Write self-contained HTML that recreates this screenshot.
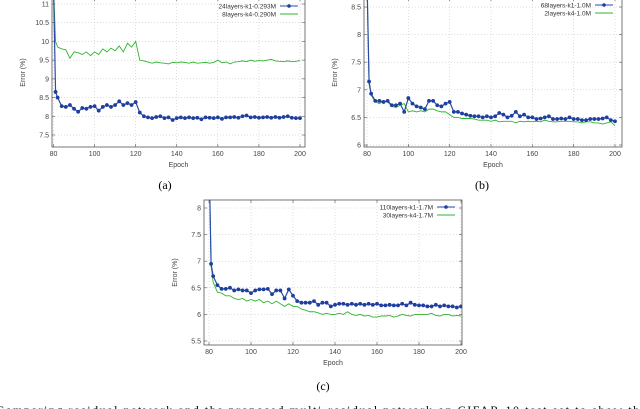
<!DOCTYPE html>
<html><head><meta charset="utf-8">
<style>
html,body{margin:0;padding:0;background:#fff;width:640px;height:409px;overflow:hidden;font-family:"Liberation Sans",sans-serif}
svg{position:absolute;left:0;top:0}
.tk{font-size:7px;fill:#444}
.lg{font-size:6.5px;fill:#333}
.cap{font-family:"Liberation Serif",serif;font-size:12px;fill:#000}
</style></head>
<body>
<svg id="chart" width="640" height="409" viewBox="0 0 640 409"></svg>
<script>
// shared epochs
const epochs = [80,81];
for (let e = 82; e <= 200; e += 2) epochs.push(e);
const xTicks = [80,100,120,140,160,180,200];

// panel (a)
const aBlue = [11.5,8.65,8.5,8.27,8.25,8.3,8.2,8.12,8.22,8.2,8.25,8.27,8.15,8.25,8.3,8.25,8.3,8.4,8.3,8.35,8.3,8.38,8.1,8.0,7.97,7.95,7.98,8.0,7.95,7.97,7.9,7.95,7.97,7.95,7.97,7.95,7.96,7.92,7.97,7.96,7.95,7.97,7.93,7.97,7.97,7.98,7.96,8.0,8.02,7.97,7.98,7.96,7.97,7.98,7.96,7.98,7.96,7.98,8.0,7.96,7.95,7.95];
const aGreen = [11.5,10.0,9.85,9.8,9.78,9.55,9.72,9.7,9.65,9.72,9.62,9.72,9.65,9.8,9.72,9.82,9.75,9.88,9.72,9.95,9.85,10.0,9.5,9.48,9.45,9.42,9.45,9.43,9.42,9.4,9.44,9.43,9.45,9.44,9.42,9.45,9.42,9.43,9.44,9.42,9.44,9.5,9.43,9.45,9.4,9.45,9.46,9.48,9.46,9.5,9.47,9.49,9.48,9.5,9.52,9.48,9.47,9.46,9.48,9.46,9.47,9.49];
const aYTicks = [7.5,8,8.5,9,9.5,10,10.5,11];
const aLegend = ["24layers-k1-0.293M","8layers-k4-0.290M"];

// panel (b)
const bBlue = [9,7.15,6.93,6.8,6.8,6.78,6.8,6.72,6.72,6.75,6.6,6.85,6.75,6.7,6.68,6.65,6.8,6.8,6.72,6.7,6.75,6.78,6.6,6.6,6.57,6.55,6.53,6.52,6.52,6.5,6.52,6.5,6.52,6.58,6.55,6.5,6.53,6.6,6.52,6.55,6.5,6.5,6.47,6.48,6.5,6.52,6.47,6.47,6.48,6.47,6.5,6.47,6.47,6.45,6.45,6.47,6.47,6.47,6.48,6.5,6.45,6.43];
const bGreen = [9,7.1,6.9,6.78,6.75,6.8,6.78,6.7,6.68,6.72,6.75,6.6,6.62,6.6,6.62,6.6,6.65,6.65,6.62,6.6,6.6,6.55,6.5,6.5,6.48,6.48,6.48,6.47,6.45,6.45,6.45,6.43,6.45,6.42,6.43,6.43,6.43,6.4,6.43,6.42,6.43,6.42,6.43,6.42,6.45,6.43,6.42,6.42,6.43,6.43,6.43,6.42,6.42,6.4,6.42,6.42,6.4,6.4,6.38,6.4,6.42,6.35];
const bYTicks = [6,6.5,7,7.5,8,8.5];
const bLegend = ["68layers-k1-1.0M","2layers-k4-1.0M"];

// panel (c)
const cBlue = [9,6.95,6.72,6.55,6.48,6.48,6.5,6.45,6.47,6.45,6.45,6.4,6.45,6.47,6.47,6.48,6.38,6.45,6.45,6.3,6.47,6.35,6.25,6.22,6.22,6.22,6.25,6.18,6.22,6.22,6.15,6.18,6.2,6.2,6.18,6.2,6.18,6.2,6.18,6.2,6.18,6.2,6.17,6.17,6.18,6.17,6.17,6.2,6.17,6.22,6.18,6.17,6.17,6.15,6.15,6.18,6.15,6.17,6.15,6.15,6.13,6.15];
const cGreen = [9,6.9,6.6,6.42,6.4,6.35,6.35,6.3,6.28,6.3,6.25,6.28,6.25,6.28,6.22,6.25,6.2,6.25,6.2,6.15,6.2,6.15,6.15,6.1,6.08,6.05,6.05,6.03,6.0,6.02,6.0,6.0,6.02,6.0,6.05,6.0,5.98,6.0,5.97,5.98,5.95,5.95,5.97,5.97,5.98,5.95,5.97,6.0,5.98,5.97,6.0,6.0,6.0,6.0,6.02,5.98,5.97,6.0,6.0,5.97,5.98,5.97];
const cYTicks = [5.5,6,6.5,7,7.5,8];
const cLegend = ["110layers-k1-1.7M","30layers-k4-1.7M"];

const NS = "http://www.w3.org/2000/svg";
const svg = document.getElementById("chart");
function mk(tag, attrs, parent) {
  const el = document.createElementNS(NS, tag);
  for (const k in attrs) el.setAttribute(k, attrs[k]);
  (parent || svg).appendChild(el);
  return el;
}

function panel(id, box, xr, yr, yTicks, blue, green, legend, legendX, legendY, capX, capY, capText) {
  const g = mk("g", {});
  
  
  const xs = v => box.x0 + (v - xr[0]) / (xr[1] - xr[0]) * (box.x1 - box.x0);
  const ys = v => box.yA + (v - yr[0]) / (yr[1] - yr[0]) * (box.yB - box.yA);
  const cp = mk("clipPath", {id: "clip" + id}, g);
  mk("rect", {x: box.l, y: box.t, width: box.r - box.l, height: box.b - box.t}, cp);
  xTicks.forEach(t => {
    const x = xs(t);
    const gl = mk("line", {x1: x, x2: x, y1: box.t, y2: box.b, stroke: "#bbb", "stroke-width": 0.5, "stroke-dasharray": "1,2"}, g);
    
    
    mk("line", {x1: x, x2: x, y1: box.b, y2: box.b - 3, stroke: "#555", "stroke-width": 0.6}, g);
    mk("line", {x1: x, x2: x, y1: box.t, y2: box.t + 3, stroke: "#555", "stroke-width": 0.6}, g);
    const tl = mk("text", {x: x, y: box.b + 9, "text-anchor": "middle", class: "tk"}, g);
    tl.textContent = t;
    
    
  });
  yTicks.forEach(t => {
    const y = ys(t);
    const gl = mk("line", {x1: box.l, x2: box.r, y1: y, y2: y, stroke: "#bbb", "stroke-width": 0.5, "stroke-dasharray": "1,2"}, g);
    
    
    mk("line", {x1: box.l, x2: box.l + 3, y1: y, y2: y, stroke: "#555", "stroke-width": 0.6}, g);
    mk("line", {x1: box.r, x2: box.r - 3, y1: y, y2: y, stroke: "#555", "stroke-width": 0.6}, g);
    const tl = mk("text", {x: box.l - 3, y: y + 2.5, "text-anchor": "end", class: "tk"}, g);
    tl.textContent = t;
    
    
  });
  const fr = mk("rect", {x: box.l, y: box.t, width: box.r - box.l, height: box.b - box.t, fill: "none", stroke: "#555", "stroke-width": 0.8}, g);
  
  
  const sg = mk("g", {"clip-path": "url(#clip" + id + ")"}, g);
  const gp = mk("polyline", {points: green.map((v, i) => xs(epochs[i]) + "," + ys(v)).join(" "), fill: "none", stroke: "#2fb52f", "stroke-width": 0.9}, sg);
  
  
  const bp = mk("polyline", {points: blue.map((v, i) => xs(epochs[i]) + "," + ys(v)).join(" "), fill: "none", stroke: "#2a4ba8", "stroke-width": 1.2}, sg);
  
  
  blue.forEach((v, i) => {
    const c = mk("circle", {cx: xs(epochs[i]), cy: ys(v), r: 1.9, fill: "#1f3e9e"}, sg);
    
    
  });
  legend.forEach((txt, k) => {
    const y = legendY + k * 8;
    const t = mk("text", {x: legendX, y: y + 2.3, "text-anchor": "end", class: "lg"}, g);
    t.textContent = txt;
    
    
    mk("line", {x1: legendX + 4, x2: legendX + 22, y1: y, y2: y, stroke: k ? "#2fb52f" : "#2a4ba8", "stroke-width": 1}, g);
    if (!k) mk("circle", {cx: legendX + 13, cy: y, r: 1.8, fill: "#1f3e9e"}, g);
  });
  const xt = mk("text", {x: (box.l + box.r) / 2, y: box.b + 20, "text-anchor": "middle", class: "tk"}, g);
  xt.textContent = "Epoch";
  
  
  const yx = box.l - 27, yy = (box.t + box.b) / 2;
  const yt = mk("text", {x: yx, y: yy, "text-anchor": "middle", class: "tk", transform: "rotate(-90 " + yx + " " + yy + ")"}, g);
  yt.textContent = "Error (%)";
  
  
  const cap = mk("text", {x: capX, y: capY, "text-anchor": "middle", class: "cap"}, g);
  cap.textContent = capText;
  
  
}

panel("a", {l: 52, r: 305, t: -2, b: 147, x0: 53.5, x1: 300, yA: 4, yB: 135}, [80, 200], [11, 7.5], aYTicks, aBlue, aGreen, aLegend, 276, 6, 165, 189, "(a)");
panel("b", {l: 364, r: 622, t: -2, b: 147, x0: 367, x1: 615, yA: 7, yB: 145}, [80, 200], [8.5, 6], bYTicks, bBlue, bGreen, bLegend, 591, 5, 482, 189, "(b)");
panel("c", {l: 204, r: 462, t: 200, b: 345, x0: 209, x1: 461, yA: 208, yB: 341}, [80, 200], [8, 5.5], cYTicks, cBlue, cGreen, cLegend, 433, 207, 323, 390, "(c)");

const body = mk("text", {x: -4, y: 414, class: "cap", "font-size": "14", textLength: "650", lengthAdjust: "spacing"});
body.textContent = "Comparing residual network and the proposed multi-residual network on CIFAR-10 test set to show the";


</script>
</body></html>
